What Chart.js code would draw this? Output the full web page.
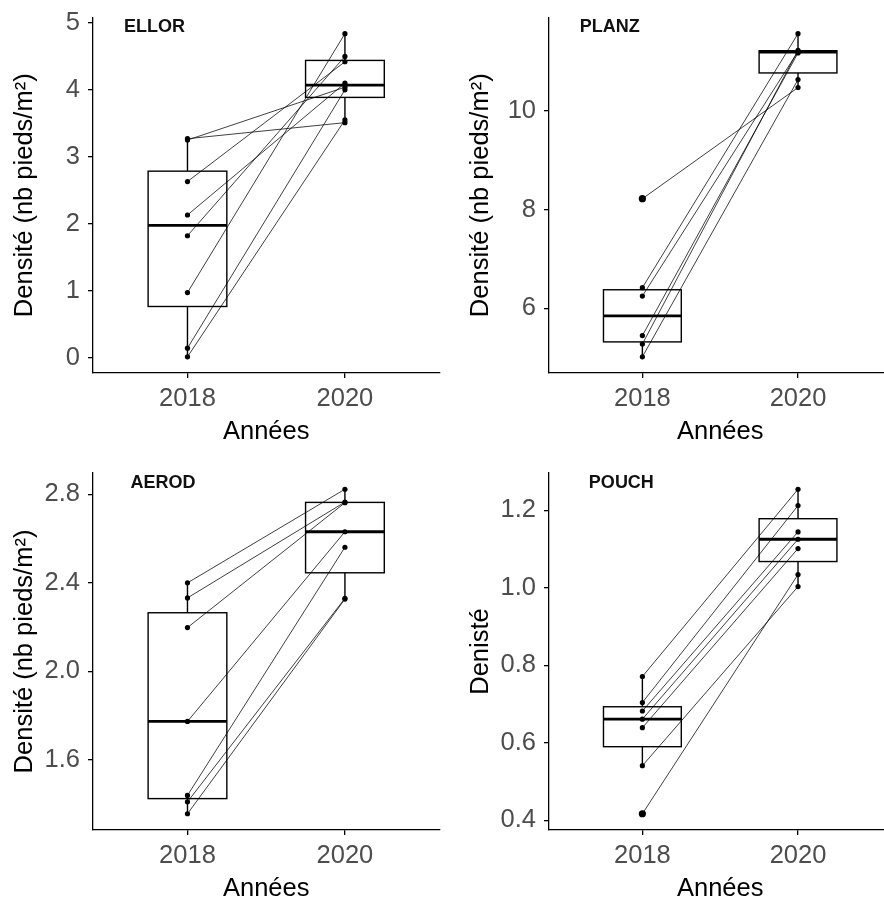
<!DOCTYPE html>
<html>
<head>
<meta charset="utf-8">
<script src="https://cdn.jsdelivr.net/npm/chart.js@4"></script>
<style>
  html, body { margin: 0; padding: 0; background: #fff; overflow: hidden; }
  body { width: 884px; height: 899px; position: relative; }
  canvas { position: absolute; }
</style>
</head>
<body>
<canvas id="c0"></canvas>
<canvas id="c1"></canvas>
<canvas id="c2"></canvas>
<canvas id="c3"></canvas>
<script>
// ---- data (pairs are in the same order) ----
const years = ["2018", "2020"];
const speciesNames = ["ELLOR", "PLANZ", "AEROD", "POUCH"];

const ellor2018 = [3.25, 3.27, 2.63, 2.13, 1.82, 0.97, 0.14, 0.01];
const ellor2020 = [4.04, 3.51, 4.42, 4.10, 4.50, 4.84, 4.00, 3.55];

const planz2018 = [8.22, 6.42, 6.25, 5.45, 5.28, 5.02];
const planz2020 = [10.47, 11.56, 11.20, 11.17, 11.22, 10.63];

const aerod2018 = [2.40, 2.332, 2.198, 1.774, 1.44, 1.411, 1.357];
const aerod2020 = [2.823, 2.765, 2.762, 2.631, 2.561, 2.33, 2.327];

const pouch2018 = [0.771, 0.704, 0.682, 0.661, 0.639, 0.541, 0.417];
const pouch2020 = [1.254, 1.212, 1.144, 1.125, 1.101, 1.003, 1.034];

const yTitles = ["Densité (nb pieds/m²)", "Densité (nb pieds/m²)", "Densité (nb pieds/m²)", "Denisté"];
const yTickValues = [[0, 1, 2, 3, 4, 5], [6, 8, 10], [1.6, 2.0, 2.4, 2.8], [0.4, 0.6, 0.8, 1.0, 1.2]];
const yTickDecimals = [0, 0, 1, 1];
const xTitle = "Années";

const panelData = [
  [ellor2018, ellor2020],
  [planz2018, planz2020],
  [aerod2018, aerod2020],
  [pouch2018, pouch2020],
];

// ---- layout (page pixels) ----
const panelBoxes = [
  { left: 0,   top: 0,   width: 442, height: 449, yWidth: 93,  padTop: 17.5, yTitlePad: 9.2,  labelX: 0.79 },
  { left: 442, top: 0,   width: 453, height: 449, yWidth: 107, padTop: 17.5, yTitlePad: 23.9, labelX: 0.79 },
  { left: 0,   top: 456, width: 442, height: 450, yWidth: 93,  padTop: 17,   yTitlePad: 9.2,  labelX: 0.845 },
  { left: 442, top: 456, width: 453, height: 450, yWidth: 107, padTop: 17,   yTitlePad: 23.9, labelX: 0.865 },
];

const FONT = "'Liberation Sans', Arial, sans-serif";
const TXT = 25.5;

// quantile type 7 (R default)
function quantile(sorted, p) {
  const pos = (sorted.length - 1) * p;
  const lo = Math.floor(pos), hi = Math.ceil(pos);
  return sorted[lo] + (sorted[hi] - sorted[lo]) * (pos - lo);
}

function boxStats(values) {
  const s = values.slice().sort((a, b) => a - b);
  const q1 = quantile(s, 0.25), med = quantile(s, 0.5), q3 = quantile(s, 0.75);
  const iqr = q3 - q1;
  const inside = s.filter(v => v >= q1 - 1.5 * iqr && v <= q3 + 1.5 * iqr);
  return {
    q1, med, q3,
    lo: Math.min(...inside), hi: Math.max(...inside),
    outliers: s.filter(v => v < q1 - 1.5 * iqr || v > q3 + 1.5 * iqr),
  };
}

// no extra room for edge tick labels, chart area is fixed by the layout
const noPad = s => { s.paddingTop = 0; s.paddingBottom = 0; s.paddingLeft = 0; s.paddingRight = 0; };

// boxplots drawn under the paired lines
const boxPlugin = {
  id: "boxes",
  beforeDatasetsDraw(chart) {
    const { ctx, scales: { x, y } } = chart;
    const stats = chart.options.plugins.boxes.stats;
    ctx.save();
    stats.forEach((st, i) => {
      const xc = x.getPixelForValue(i + 1);
      const xl = x.getPixelForValue(i + 1 - 0.25);
      const xr = x.getPixelForValue(i + 1 + 0.25);
      const yq1 = y.getPixelForValue(st.q1), yq3 = y.getPixelForValue(st.q3);
      ctx.strokeStyle = "#000";
      ctx.lineWidth = 1.4;
      // whiskers
      ctx.beginPath();
      ctx.moveTo(xc, y.getPixelForValue(st.hi)); ctx.lineTo(xc, yq3);
      ctx.moveTo(xc, yq1); ctx.lineTo(xc, y.getPixelForValue(st.lo));
      ctx.stroke();
      // box
      ctx.fillStyle = "#fff";
      ctx.fillRect(xl, yq3, xr - xl, yq1 - yq3);
      ctx.strokeRect(xl, yq3, xr - xl, yq1 - yq3);
      // median
      ctx.lineWidth = 2.8;
      ctx.beginPath();
      ctx.moveTo(xl, y.getPixelForValue(st.med));
      ctx.lineTo(xr, y.getPixelForValue(st.med));
      ctx.stroke();
    });
    ctx.restore();
  },
  afterDraw(chart) {
    const { ctx, chartArea, scales: { x } } = chart;
    const opts = chart.options.plugins.boxes;
    ctx.save();
    ctx.font = "bold 18px " + FONT;
    ctx.fillStyle = "#111";
    ctx.textAlign = "center";
    ctx.textBaseline = "alphabetic";
    ctx.fillText(opts.label, x.getPixelForValue(opts.labelX), chartArea.top + 14.5);
    ctx.restore();
  },
};

panelData.forEach((cols, p) => {
  const box = panelBoxes[p];
  const canvas = document.getElementById("c" + p);
  canvas.width = box.width;
  canvas.height = box.height;
  canvas.style.left = box.left + "px";
  canvas.style.top = box.top + "px";

  const stats = cols.map(boxStats);
  const all = cols[0].concat(cols[1]);
  const dMin = Math.min(...all), dMax = Math.max(...all);
  const pad = (dMax - dMin) * 0.05;

  const isOutlier = (xi, v) => stats[xi - 1].outliers.includes(v);

  const datasets = cols[0].map((v0, k) => ({
    data: [{ x: 1, y: v0 }, { x: 2, y: cols[1][k] }],
    showLine: true,
    borderColor: "#000",
    borderWidth: 0.75,
    backgroundColor: "#000",
    pointBackgroundColor: "#000",
    pointBorderWidth: 0,
    pointRadius: c => (c.raw && isOutlier(c.raw.x, c.raw.y) ? 3.6 : 2.6),
    pointHoverRadius: 0,
  }));

  new Chart(canvas, {
    type: "scatter",
    data: { datasets },
    plugins: [boxPlugin],
    options: {
      responsive: false,
      animation: false,
      events: [],
      layout: { padding: { top: box.padTop, left: 0, right: 0, bottom: 0 } },
      plugins: {
        legend: { display: false },
        tooltip: { enabled: false },
        boxes: { stats, label: speciesNames[p], labelX: box.labelX },
      },
      scales: {
        x: {
          type: "linear",
          min: 0.4,
          max: 2.6,
          afterBuildTicks: s => { s.ticks = [{ value: 1 }, { value: 2 }]; },
          afterFit: s => { s.height = 76; noPad(s); },
          ticks: {
            callback: v => years[v - 1],
            color: "#4d4d4d",
            font: { family: FONT, size: TXT },
            padding: 6,
            maxRotation: 0,
            autoSkip: false,
          },
          grid: { drawOnChartArea: false, drawTicks: true, tickLength: 5, color: "#000", lineWidth: 1.3 },
          border: { display: true, color: "#000", width: 1.3 },
          title: { display: true, text: xTitle, color: "#000", font: { family: FONT, size: TXT }, padding: { top: 0, bottom: 1.7 } },
        },
        y: {
          type: "linear",
          min: dMin - pad,
          max: dMax + pad,
          afterBuildTicks: s => { s.ticks = yTickValues[p].map(v => ({ value: v })); },
          afterFit: s => { s.width = box.yWidth; noPad(s); },
          ticks: {
            callback: v => v.toFixed(yTickDecimals[p]),
            color: "#4d4d4d",
            font: { family: FONT, size: TXT },
            padding: 8,
            autoSkip: false,
          },
          grid: { drawOnChartArea: false, drawTicks: true, tickLength: 5, color: "#000", lineWidth: 1.3 },
          border: { display: true, color: "#000", width: 1.3 },
          title: { display: true, text: yTitles[p], color: "#000", font: { family: FONT, size: TXT }, padding: { top: box.yTitlePad, bottom: 0 } },
        },
      },
    },
  });
});
</script>
</body>
</html>
